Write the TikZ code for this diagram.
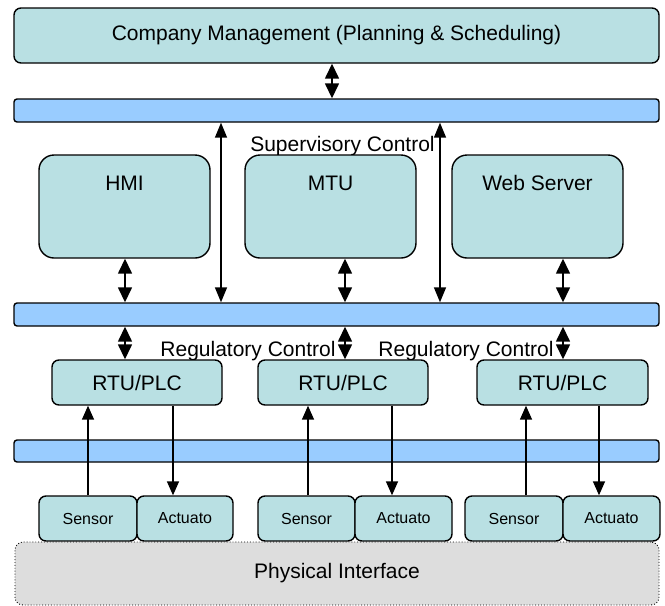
\documentclass[tikz,border=0pt]{standalone}
\usepackage{fontspec}
\setmainfont{Liberation Sans}
\usetikzlibrary{arrows.meta}
\definecolor{boxfill}{RGB}{185,224,227}
\definecolor{busfill}{RGB}{153,204,255}
\definecolor{physfill}{RGB}{221,221,221}
\begin{document}
\begin{tikzpicture}[x=1pt,y=-1pt,
  box/.style={draw=black, line width=1.4pt, fill=boxfill, rounded corners=7pt, inner sep=0pt,
    font=\fontsize{21}{24}\selectfont},
  bigbox/.style={box, rounded corners=15pt},
  smallbox/.style={box, font=\fontsize{16}{19}\selectfont},
  bus/.style={draw=black, line width=1.4pt, fill=busfill, rounded corners=3pt, inner sep=0pt,
    minimum width=645pt},
  phys/.style={draw=black, line width=0.9pt, dotted, fill=physfill, rounded corners=8pt, inner sep=0pt,
    font=\fontsize{21}{24}\selectfont},
  lbl/.style={font=\fontsize{21}{24}\selectfont, inner sep=0pt, anchor=base},
  dbl/.style={line width=1.5pt, {Triangle[width=14pt,length=15pt]}-{Triangle[width=14pt,length=15pt]}},
  longdbl/.style={line width=1.5pt, {Triangle[width=12pt,length=15pt]}-{Triangle[width=12pt,length=15pt]}},
  one/.style={line width=1.5pt, -{Triangle[width=12pt,length=14pt]}}
]
\useasboundingbox (0,0) rectangle (665,606);

% top level
\node[box, minimum width=645pt, minimum height=55pt] (top) at (336.5,35.5)
  {Company Management (Planning \& Scheduling)};
\node[bus, minimum height=23pt] (bus1) at (336.5,110.5) {};
\node[lbl] (sup) at (342.5,151) {Supervisory Control};

% supervisory boxes
\node[bigbox, minimum width=171pt, minimum height=103pt] (hmi) at (124.5,206.5) {};
\node[bigbox, minimum width=171pt, minimum height=103pt] (mtu) at (330.5,206.5) {};
\node[bigbox, minimum width=171pt, minimum height=103pt] (web) at (537.5,206.5) {};
\node[lbl] (hmit) at (124.5,190) {HMI};
\node[lbl] (mtut) at (330.5,190) {MTU};
\node[lbl] (webt) at (537.5,190) {Web Server};

\node[bus, minimum height=23pt] (bus2) at (336.5,314.5) {};
\node[lbl] (reg1) at (248,356) {Regulatory Control};
\node[lbl] (reg2) at (466,356) {Regulatory Control};

% RTU/PLC
\node[box, minimum width=170pt, minimum height=45pt] (rtu1) at (137,382.5) {RTU/PLC};
\node[box, minimum width=170pt, minimum height=45pt] (rtu2) at (343,382.5) {RTU/PLC};
\node[box, minimum width=171pt, minimum height=45pt] (rtu3) at (562.5,382.5) {RTU/PLC};

\node[bus, minimum height=22pt] (bus3) at (336.5,451) {};

% physical layer
\node[phys, minimum width=644pt, minimum height=63pt] (phys) at (337,573.5) {};
\node[lbl] (physt) at (337,578) {Physical Interface};

\node[smallbox, minimum width=98pt, minimum height=45pt] (sen1) at (88,518.5) {Sensor};
\node[smallbox, minimum width=96pt, minimum height=45pt] (act1) at (185,518.5) {Actuato};
\node[smallbox, minimum width=97pt, minimum height=45pt] (sen2) at (306.5,518.5) {Sensor};
\node[smallbox, minimum width=97pt, minimum height=45pt] (act2) at (403.5,518.5) {Actuato};
\node[smallbox, minimum width=98pt, minimum height=45pt] (sen3) at (514,518.5) {Sensor};
\node[smallbox, minimum width=97pt, minimum height=45pt] (act3) at (611.5,518.5) {Actuato};

% column coordinates
\coordinate (ca) at (332,0);
\coordinate (cl) at (221,0);
\coordinate (cr) at (440,0);
\coordinate (c1) at (125,0);
\coordinate (c2) at (345,0);
\coordinate (c3) at (563,0);
\coordinate (s1) at (88,0);
\coordinate (s2) at (308,0);
\coordinate (s3) at (526,0);
\coordinate (a1) at (173,0);
\coordinate (a2) at (392,0);
\coordinate (a3) at (599,0);

% connectors
\draw[dbl] (top.south -| ca) -- (bus1.north -| ca);
\draw[longdbl] (bus1.south -| cl) -- (bus2.north -| cl);
\draw[longdbl] (bus1.south -| cr) -- (bus2.north -| cr);
\draw[dbl] (hmi.south -| c1) -- (bus2.north -| c1);
\draw[dbl] (mtu.south -| c2) -- (bus2.north -| c2);
\draw[dbl] (web.south -| c3) -- (bus2.north -| c3);
\draw[dbl] (bus2.south -| c1) -- (rtu1.north -| c1);
\draw[dbl] (bus2.south -| c2) -- (rtu2.north -| c2);
\draw[dbl] (bus2.south -| c3) -- (rtu3.north -| c3);
\draw[one] (sen1.north -| s1) -- (rtu1.south -| s1);
\draw[one] (sen2.north -| s2) -- (rtu2.south -| s2);
\draw[one] (sen3.north -| s3) -- (rtu3.south -| s3);
\draw[one] (rtu1.south -| a1) -- (act1.north -| a1);
\draw[one] (rtu2.south -| a2) -- (act2.north -| a2);
\draw[one] (rtu3.south -| a3) -- (act3.north -| a3);
\end{tikzpicture}
\end{document}
